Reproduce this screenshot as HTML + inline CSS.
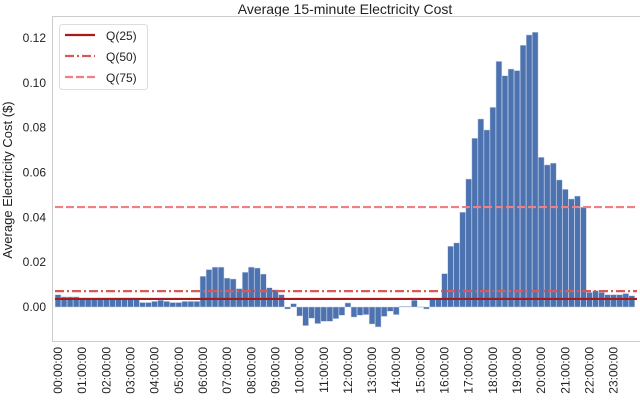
<!DOCTYPE html>
<html><head><meta charset="utf-8"><style>
html,body{margin:0;padding:0;background:#fff;}
svg{display:block;font-family:"Liberation Sans",Arial,sans-serif;}
</style></head><body>
<svg id="chart" width="640" height="405" viewBox="0 0 640 405" xmlns="http://www.w3.org/2000/svg">
<text x="345" y="14" font-size="14" text-anchor="middle" fill="#222">Average 15-minute Electricity Cost</text>
<text transform="translate(12,180) rotate(-90)" font-size="13" text-anchor="middle" fill="#222">Average Electricity Cost ($)</text>
<rect x="52.5" y="16.5" width="588" height="325" fill="none" stroke="#cccccc" stroke-width="1"/>
<g id="bars"></g>
<g id="lines"></g>
<g id="yticks"></g>
<g id="xticks"></g>
<g>
<rect x="59.5" y="24.5" width="88" height="65" rx="3" fill="#fff" fill-opacity="0.85" stroke="#dddddd"/>
<g><line x1="65" y1="35" x2="95" y2="35" stroke="#a61c1c" stroke-width="2.2"/><text x="106" y="40" font-size="12" fill="#222">Q(25)</text></g>
<g><line x1="65" y1="56" x2="95" y2="56" stroke="#d65a57" stroke-width="2.2" stroke-dasharray="9,3,2,3"/><text x="106" y="61" font-size="12" fill="#222">Q(50)</text></g>
<g><line x1="65" y1="77" x2="95" y2="77" stroke="#f08080" stroke-width="2.2" stroke-dasharray="8,3"/><text x="106" y="82" font-size="12" fill="#222">Q(75)</text></g>
</g>
</svg>
<script>
const values = [0.0055,0.0045,0.0045,0.0045,0.004,0.004,0.004,0.004,0.004,0.004,0.004,0.004,0.004,0.004,0.002,0.002,
0.0025,0.003,0.0025,0.002,0.002,0.0025,0.0025,0.0025,0.0137,0.0167,0.0178,0.0178,0.0129,0.0125,0.0082,0.0155,
0.0178,0.0174,0.0147,0.0086,0.0077,0.0055,-0.0009,0.0015,-0.004,-0.0083,-0.005,-0.0074,-0.0064,-0.0064,-0.0052,-0.0037,
0.0018,-0.0045,-0.0037,-0.0034,-0.0076,-0.0089,-0.0042,-0.0019,-0.0034,0.0003,0.0003,0.003,0.0001,-0.0009,0.0033,0.0033,
0.0149,0.0271,0.0286,0.0423,0.0571,0.0753,0.0839,0.079,0.0891,0.1096,0.1032,0.1062,0.1055,0.1168,0.1214,0.1226,
0.0668,0.0634,0.0642,0.0567,0.0525,0.0482,0.0495,0.0445,0.0065,0.0073,0.0065,0.0055,0.0055,0.0055,0.006,0.005];
const quantiles = [0.0036,0.0071,0.0446];
const quantileNames = ['q25','q50','q75'];
const yTicks = [0.00,0.02,0.04,0.06,0.08,0.10,0.12];
const hourLabels = [];
for (let h=0;h<24;h++) hourLabels.push((h<10?'0':'')+h+':00:00');

const NS='http://www.w3.org/2000/svg';
const y = v => 307 - v*2241;
const x = i => 58 + i*6.04;
function mk(tag, attrs, parent){const e=document.createElementNS(NS,tag);for(const k in attrs)e.setAttribute(k,attrs[k]);parent.appendChild(e);return e;}

const bars=document.getElementById('bars');
values.forEach((v,i)=>{
  const top=Math.min(y(v),y(0)), h=Math.abs(y(v)-y(0));
  const r=mk('rect',{x:x(i)-2.9,y:top,width:5.8,height:Math.max(h,0.6),fill:'#4c72b0',stroke:'#c9d4ea','stroke-width':0.5},bars);
  
  
});

const lines=document.getElementById('lines');
const styles=[{stroke:'#a61c1c',dash:''},{stroke:'#d65a57',dash:'9,3,2,3'},{stroke:'#f08080',dash:'8,3'}];
quantiles.forEach((q,k)=>{
  const l=mk('line',{x1:55,x2:637,y1:y(q),y2:y(q),stroke:styles[k].stroke,'stroke-width':2.2},lines);
  if(styles[k].dash) l.setAttribute('stroke-dasharray',styles[k].dash);
  
  
});

const yt=document.getElementById('yticks');
yTicks.forEach(t=>{
  const e=mk('text',{x:46,y:y(t)+4,'font-size':12,'text-anchor':'end',fill:'#222'},yt);
  e.textContent=t.toFixed(2);
  
  
});

const xt=document.getElementById('xticks');
hourLabels.forEach((s,h)=>{
  const cx=x(h*4)+4;
  const e=mk('text',{transform:'translate('+cx+',347) rotate(-90)','font-size':12,'text-anchor':'end',fill:'#222'},xt);
  e.textContent=s;
  
  
});
</script>
</body></html>
